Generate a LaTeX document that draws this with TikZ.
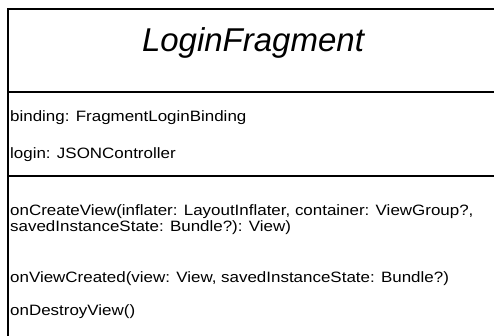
\documentclass[tikz,border=0pt]{standalone}
\usepackage{fontspec}
\setmainfont{Liberation Sans}
\newfontfamily\umlfont[FakeStretch=1.13]{Liberation Sans}

\tikzset{
  member/.style={anchor=base west, inner sep=0pt, font=\umlfont\fontsize{15}{18}\selectfont},
  classname/.style={anchor=base, inner sep=0pt, font=\fontsize{33}{38}\selectfont\itshape},
  frame/.style={line width=2pt},
  divider/.style={line width=1.6pt}
}

\begin{document}
\begin{tikzpicture}[x=1pt,y=-1pt]
\useasboundingbox (0,0) rectangle (494,336);
\clip (0,0) rectangle (494,336);
\coordinate (top)  at (8,9.5);
\coordinate (foot) at (8,345);
\coordinate (sepA) at (8,92);
\coordinate (sepB) at (8,176);
% class box, right and bottom edges lie off the picture
\draw[frame] (foot) -- (top) -- ++(495,0) -- ++(0,340);
\draw[divider] (sepA) -- ++(495,0);
\draw[divider] (sepB) -- ++(495,0);
\node[classname] (cls) at (253,52) {LoginFragment};
% attributes
\node[member] (binding) at (10,122) {binding: FragmentLoginBinding};
\node[member] (login)   at (10,159) {login: JSONController};
% operations
\node[member] (oncreate)  at (10,215) {onCreateView(inflater: LayoutInflater, container: ViewGroup?,};
\node[member] (oncreateb) at (10,232) {savedInstanceState: Bundle?): View)};
\node[member] (onviewcr)  at (10,282) {onViewCreated(view: View, savedInstanceState: Bundle?)};
\node[member] (ondestroy) at (10,315) {onDestroyView()};
\end{tikzpicture}
\end{document}
